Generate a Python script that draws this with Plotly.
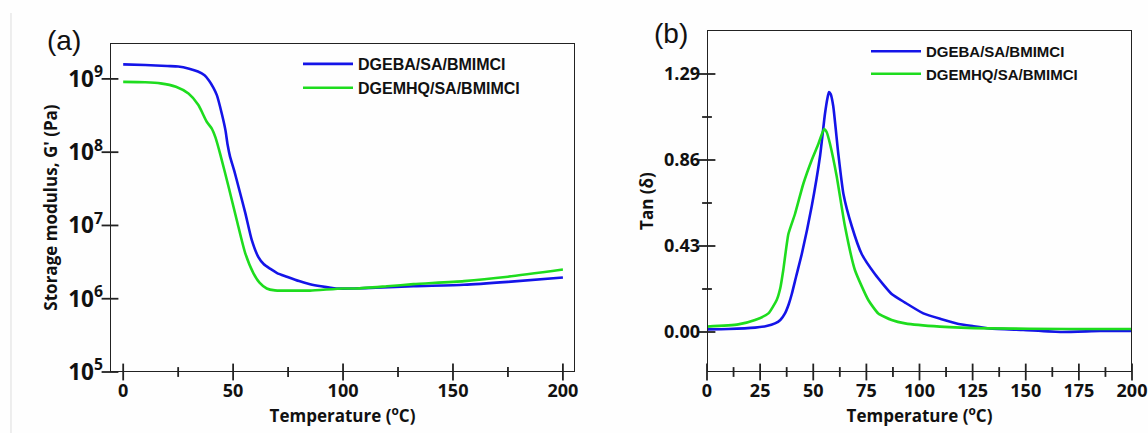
import plotly.graph_objects as go

# ---- Panel (a): storage modulus ----
temp_a_dgeba = [0, 10, 20, 25, 30, 34, 37, 39, 41, 42.6, 44.8, 46.5, 47.5, 48.6, 50.5, 52.4, 55.5, 58.5,
                61.5, 64, 66.8, 70, 74.4, 80, 85, 90, 97, 105, 115, 132, 155, 175, 200]
g_dgeba = [1.58e9, 1.55e9, 1.50e9, 1.48e9, 1.38e9, 1.26e9, 1.12e9, 9.5e8, 7.6e8, 6.0e8, 3.4e8, 2.0e8,
           1.26e8, 8.7e7, 5.6e7, 3.4e7, 1.5e7, 6.3e6, 3.7e6, 2.95e6, 2.57e6, 2.24e6, 2.0e6, 1.74e6,
           1.58e6, 1.48e6, 1.38e6, 1.38e6, 1.41e6, 1.48e6, 1.55e6, 1.70e6, 1.95e6]

temp_a_dgemhq = [0, 10, 17, 24, 29.7, 34.2, 38, 40.3, 42, 44.1, 47.9, 51.7, 55.5, 59.2, 62, 65.3, 69,
                 72.9, 80, 85, 100, 106, 120, 132, 155, 175, 200]
g_dgemhq = [9.1e8, 9.0e8, 8.7e8, 7.8e8, 6.3e8, 4.4e8, 2.6e8, 2.1e8, 1.58e8, 9.5e7, 3.4e7, 1.17e7, 4.2e6,
            2.24e6, 1.66e6, 1.38e6, 1.30e6, 1.29e6, 1.29e6, 1.29e6, 1.38e6, 1.38e6, 1.48e6, 1.58e6,
            1.74e6, 2.0e6, 2.5e6]

# ---- Panel (b): tan delta ----
temp_b_dgeba = [0, 10, 22.6, 28, 32, 34.5, 36.7, 38.5, 39.9, 42, 44.6, 49.3, 53.2, 55.5, 56.7, 57.4, 58.2,
                59.4, 61.8, 64.2, 68.1, 72.8, 79, 86.9, 93.2, 101.8, 110, 117.5, 125, 133, 148.8, 167,
                185, 200]
tan_dgeba = [0.013, 0.015, 0.022, 0.03, 0.043, 0.06, 0.093, 0.14, 0.19, 0.28, 0.39, 0.63, 0.88, 1.09,
             1.17, 1.20, 1.19, 1.13, 0.89, 0.69, 0.53, 0.39, 0.29, 0.19, 0.147, 0.093, 0.065, 0.043,
             0.03, 0.018, 0.01, 0.0, 0.005, 0.005]

temp_b_dgemhq = [0, 14.7, 22.6, 28.9, 32.8, 34.5, 35.9, 38.3, 41.4, 45.3, 49.3, 52.4, 55.1, 56.3, 57.9,
                 61, 64.9, 69.6, 75.9, 80.6, 86.9, 93.2, 109.6, 133, 170, 200]
tan_dgemhq = [0.027, 0.038, 0.06, 0.093, 0.16, 0.22, 0.31, 0.49, 0.59, 0.74, 0.86, 0.94, 1.015, 1.0,
              0.94, 0.78, 0.53, 0.31, 0.16, 0.093, 0.06, 0.043, 0.027, 0.018, 0.015, 0.015]

# ---- tick values ----
xticks_a = [0, 50, 100, 150, 200]
xminor_a = [25, 75, 125, 175]
yticks_a = [1e5, 1e6, 1e7, 1e8, 1e9]
xticks_b = [0, 25, 50, 75, 100, 125, 150, 175, 200]
xminor_b = [12.5, 37.5, 62.5, 87.5, 112.5, 137.5, 162.5, 187.5]
tan_ticks = [0.00, 0.43, 0.86, 1.29]
tan_minor = [0.215, 0.645, 1.075]
tan_ticklabels = ["0.00", "0.43", "0.86", "1.29"]

names = ["DGEBA/SA/BMIMCI", "DGEMHQ/SA/BMIMCI"]
BLUE = "#1414E8"
GREEN = "#1EDC1E"
W, H = 1148, 433
FRAME = "#222222"

XRANGE_A = [-6, 205.5]
YRANGE_A = [5, 9.49]          # log10 range
XRANGE_B = [0, 200]
YRANGE_B = [-0.2, 1.51]

fig = go.Figure()
fig.add_trace(go.Scatter(x=temp_a_dgeba, y=g_dgeba, mode="lines", name=names[0],
                         line=dict(color=BLUE, width=2.6, shape="spline", smoothing=0.6),
                         xaxis="x", yaxis="y", legend="legend"))
fig.add_trace(go.Scatter(x=temp_a_dgemhq, y=g_dgemhq, mode="lines", name=names[1],
                         line=dict(color=GREEN, width=2.6, shape="spline", smoothing=0.6),
                         xaxis="x", yaxis="y", legend="legend"))
fig.add_trace(go.Scatter(x=temp_b_dgeba, y=tan_dgeba, mode="lines", name=names[0],
                         line=dict(color=BLUE, width=2.6, shape="spline", smoothing=0.5),
                         xaxis="x2", yaxis="y2", legend="legend2"))
fig.add_trace(go.Scatter(x=temp_b_dgemhq, y=tan_dgemhq, mode="lines", name=names[1],
                         line=dict(color=GREEN, width=2.6, shape="spline", smoothing=0.5),
                         xaxis="x2", yaxis="y2", legend="legend2"))


def frame_trace(xr, yr, xaxis, yaxis):
    x0, x1 = xr
    y0, y1 = yr
    return go.Scatter(x=[x0, x1, x1, x0, x0], y=[y0, y0, y1, y1, y0], mode="lines",
                      showlegend=False, hoverinfo="skip", cliponaxis=False,
                      line=dict(color=FRAME, width=2), xaxis=xaxis, yaxis=yaxis)


def tick_trace(xs, ys, symbol, size, xaxis, yaxis):
    return go.Scatter(x=xs, y=ys, mode="markers", showlegend=False, hoverinfo="skip",
                      cliponaxis=False, xaxis=xaxis, yaxis=yaxis,
                      marker=dict(symbol=symbol, size=size, color=FRAME,
                                  line=dict(color=FRAME, width=1.8)))


yr_a = [10 ** YRANGE_A[0], 10 ** YRANGE_A[1]]
fig.add_trace(frame_trace(XRANGE_A, yr_a, "x", "y"))
fig.add_trace(frame_trace(XRANGE_B, YRANGE_B, "x2", "y2"))

bottom_a = yr_a[0]
fig.add_trace(tick_trace(xticks_a, [bottom_a] * len(xticks_a), "line-ns", 12, "x", "y"))
fig.add_trace(tick_trace(xminor_a, [bottom_a] * len(xminor_a), "line-ns", 7, "x", "y"))
fig.add_trace(tick_trace([XRANGE_A[0]] * len(yticks_a), yticks_a, "line-ew", 12, "x", "y"))
fig.add_trace(tick_trace(xticks_b, [YRANGE_B[0]] * len(xticks_b), "line-ns", 12, "x2", "y2"))
fig.add_trace(tick_trace(xminor_b, [YRANGE_B[0]] * len(xminor_b), "line-ns", 7, "x2", "y2"))
fig.add_trace(tick_trace([XRANGE_B[0]] * len(tan_ticks), tan_ticks, "line-ew", 12, "x2", "y2"))
fig.add_trace(tick_trace([XRANGE_B[0]] * len(tan_minor), tan_minor, "line-ew", 7, "x2", "y2"))

tickfont = dict(family="Open Sans", size=18, color="#111111", weight="bold")
titlefont = dict(family="Open Sans", size=17, color="#111111", weight="bold")


def axstyle():
    return dict(showline=False, ticks="", showgrid=False, zeroline=False, tickfont=tickfont,
                ticklabeloverflow="allow", ticklabelstandoff=6)


def px_x(p):
    return p / W


def px_y(p):
    return 1 - p / H


fig.update_layout(
    width=W, height=H,
    margin=dict(l=0, r=0, t=0, b=0, autoexpand=False),
    paper_bgcolor="#FEFEFE", plot_bgcolor="#FEFEFE",
    showlegend=True,
    xaxis=dict(domain=[px_x(110), px_x(575)], range=XRANGE_A, tickvals=xticks_a,
               title=dict(text="Temperature (<sup>o</sup>C)", font=titlefont, standoff=6),
               anchor="y", **axstyle()),
    yaxis=dict(domain=[px_y(372), px_y(43)], type="log", range=YRANGE_A, dtick=1,
               exponentformat="power", showexponent="all",
               title=dict(text="Storage modulus, G' (Pa)", font=titlefont, standoff=6),
               anchor="x", **axstyle()),
    xaxis2=dict(domain=[px_x(707), px_x(1132)], range=XRANGE_B, tickvals=xticks_b,
                title=dict(text="Temperature (<sup>o</sup>C)", font=titlefont, standoff=4),
                anchor="y2", **axstyle()),
    yaxis2=dict(domain=[px_y(372), px_y(30)], range=YRANGE_B, tickvals=tan_ticks, ticktext=tan_ticklabels,
                title=dict(text="Tan (δ)", font=titlefont, standoff=6),
                anchor="x2", **axstyle()),
    legend=dict(x=px_x(298), y=px_y(47), xanchor="left", yanchor="top",
                bgcolor="rgba(0,0,0,0)", borderwidth=0, itemwidth=50, tracegroupgap=0,
                font=dict(family="Liberation Sans", size=16, color="#111111", weight="bold")),
    legend2=dict(x=px_x(866), y=px_y(35), xanchor="left", yanchor="top",
                 bgcolor="rgba(0,0,0,0)", borderwidth=0, itemwidth=50, tracegroupgap=0,
                 font=dict(family="Liberation Sans", size=15, color="#111111", weight="bold")),
    annotations=[
        dict(text="(a)", x=px_x(64), y=px_y(40), xref="paper", yref="paper", showarrow=False,
             xanchor="center", yanchor="middle",
             font=dict(family="Liberation Sans", size=28, color="#111111")),
        dict(text="(b)", x=px_x(671), y=px_y(33), xref="paper", yref="paper", showarrow=False,
             xanchor="center", yanchor="middle",
             font=dict(family="Liberation Sans", size=28, color="#111111")),
    ],
    shapes=[dict(type="line", xref="paper", yref="paper", x0=px_x(11), x1=px_x(11), y0=0, y1=px_y(13),
                 line=dict(color="#DDDDDD", width=1))],
)

fig.write_html("out.html")
